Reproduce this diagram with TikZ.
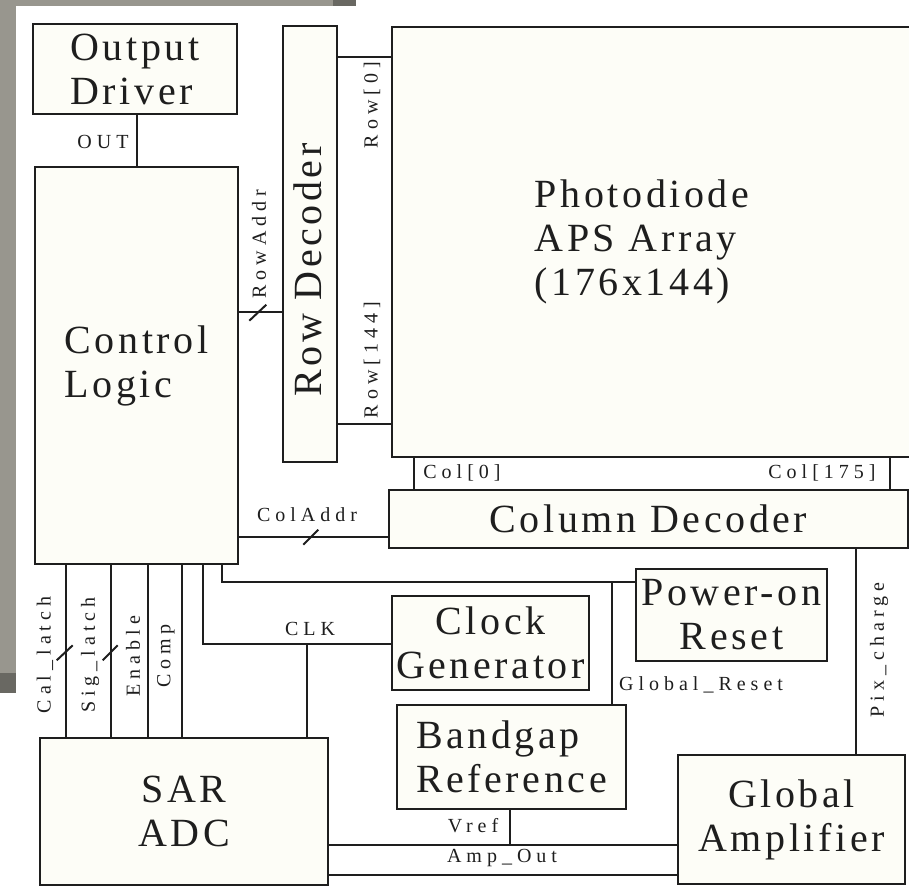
\documentclass[tikz,border=0pt]{standalone}
\usepackage{fontspec}
\setmainfont{Liberation Serif}
\newfontfamily\bigfont[LetterSpace=9]{Liberation Serif}
\newfontfamily\lblfont[LetterSpace=25]{Liberation Serif}
\usetikzlibrary{calc}
\definecolor{boxfill}{RGB}{253,253,247}
\definecolor{ink}{RGB}{30,30,30}
\definecolor{stone}{RGB}{152,150,142}
\definecolor{stonedark}{RGB}{105,104,98}
\tikzset{
 blk/.style={draw=ink, fill=boxfill, line width=2.6pt, inner sep=0pt, font=\bigfont\fontsize{40}{44}\selectfont, text=ink},
 bigtext/.style={inner sep=0pt, font=\bigfont\fontsize{40}{44}\selectfont, text=ink},
 wire/.style={draw=ink, line width=2pt},
 lbl/.style={inner sep=0pt, font=\lblfont\fontsize{20}{24}\selectfont, text=ink},
 busmark/.style={draw=ink, line width=2pt},
}
\begin{document}
\begin{tikzpicture}[x=1pt,y=-1pt]
\useasboundingbox (0,0) rectangle (909,886);
\clip (0,0) rectangle (909,886);
\fill[white] (0,0) rectangle (909,886);
% stone background strip
\fill[stone] (0,0) rectangle (356,6);
\fill[stone] (0,0) rectangle (16,693);
\fill[stonedark] (0,673) rectangle (16,693);
\fill[stonedark] (333,0) rectangle (356,6);

% blocks
\node[blk, minimum width=204, minimum height=90, align=left] (drv) at (135,69) {Output\\Driver};
\node[blk, minimum width=203, minimum height=397, align=left] (ctrl) at (136.5,365.5) {Control\\Logic};
\node[blk, minimum width=54, minimum height=436] (rowdec) at (310,244) {};
\node[bigtext, rotate=90] (rowdectext) at (308,270) {Row Decoder};
\node[blk, minimum width=528, minimum height=430] (aps) at (656,242) {};
\node[bigtext, align=left] (apstext) at (642,242) {Photodiode\\APS Array\\(176x144)};
\node[blk, minimum width=519, minimum height=58] (coldec) at (648.5,519) {Column Decoder};
\node[blk, minimum width=191, minimum height=92, align=center] (por) at (731.5,615) {Power-on\\Reset};
\node[blk, minimum width=197, minimum height=94, align=center] (clk) at (490.5,643) {Clock\\Generator};
\node[blk, minimum width=229, minimum height=104, align=left] (bg) at (511.5,757) {Bandgap\\Reference};
\node[blk, minimum width=288, minimum height=147, align=center] (sar) at (184,811.5) {SAR\\ADC};
\node[blk, minimum width=227, minimum height=129, align=center] (amp) at (791.5,819.5) {Global\\Amplifier};

% wires
\draw[wire] ($(drv.south west)+(105,0)$) coordinate (o1) -- (o1 |- ctrl.north);
\draw[wire] ($(ctrl.north east)+(0,146)$) coordinate (ra) -- (ra -| rowdec.west);
\draw[wire] ($(rowdec.north east)+(0,32)$) coordinate (r0) -- (r0 -| aps.west);
\draw[wire] ($(rowdec.north east)+(0,399)$) coordinate (r1) -- (r1 -| aps.west);
\draw[wire] ($(aps.south west)+(23,0)$) coordinate (c0) -- (c0 |- coldec.north);
\draw[wire] ($(aps.south west)+(499,0)$) coordinate (c1) -- (c1 |- coldec.north);
\draw[wire] ($(ctrl.north east)+(0,371)$) coordinate (ca) -- (ca -| coldec.west);
\draw[wire] ($(ctrl.south west)+(188,0)$) coordinate (p1) -- ++(0,17) coordinate (p2) -- (p2 -| por.west);
\draw[wire] ($(bg.north west)+(216,0)$) coordinate (g1) -- (g1 |- p2);
\draw[wire] ($(ctrl.south west)+(169,0)$) coordinate (k1) -- ++(0,79) coordinate (k2) -- (k2 -| clk.west);
\draw[wire] ($(sar.north west)+(268,0)$) coordinate (k3) -- (k3 |- k2);
\foreach \dx in {32,77,114,148}{
  \draw[wire] ($(ctrl.south west)+(\dx,0)$) coordinate (s\dx) -- (s\dx |- sar.north);
}
\draw[wire] ($(bg.south west)+(114,0)$) coordinate (v1) -- ++(0,35) coordinate (v2);
\draw[wire] (v2 -| sar.east) -- (v2 -| amp.west);
\draw[wire] ($(sar.north east)+(0,138)$) coordinate (a1) -- (a1 -| amp.west);
\draw[wire] ($(coldec.south west)+(468,0)$) coordinate (pc) -- (pc |- amp.north);

% bus marks
\draw[busmark] ($(ra)+(10,9)$) -- ++(17,-16);
\draw[busmark] ($(ca)+(64,8)$) -- ++(15,-15);
\draw[busmark] ($(s32)+(-9,95)$) -- ++(16,-15);
\draw[busmark] ($(s77)+(-8,95)$) -- ++(15,-15);

% labels
\node[lbl] (lout) at (103,142) {OUT};
\node[lbl, rotate=90] (lra) at (259,244) {RowAddr};
\node[lbl, rotate=90] (lr0) at (372,105) {Row[0]};
\node[lbl, rotate=90] (lr1) at (372,360) {Row[144]};
\node[lbl] (lc0) at (462,473) {Col[0]};
\node[lbl] (lc1) at (822,473) {Col[175]};
\node[lbl] (lca) at (307,515) {ColAddr};
\node[lbl] (lclk) at (310,629) {CLK};
\node[lbl, rotate=90] (lcal) at (45,655) {Cal\_latch};
\node[lbl, rotate=90] (lsig) at (90,655) {Sig\_latch};
\node[lbl, rotate=90] (len) at (133,656) {Enable};
\node[lbl, rotate=90] (lcmp) at (166,656) {Comp};
\node[lbl] (lgr) at (701,685) {Global\_Reset};
\node[lbl, rotate=90] (lpc) at (879,650) {Pix\_charge};
\node[lbl] (lvref) at (473,826) {Vref};
\node[lbl] (lamp) at (502,858) {Amp\_Out};
\end{tikzpicture}
\end{document}
